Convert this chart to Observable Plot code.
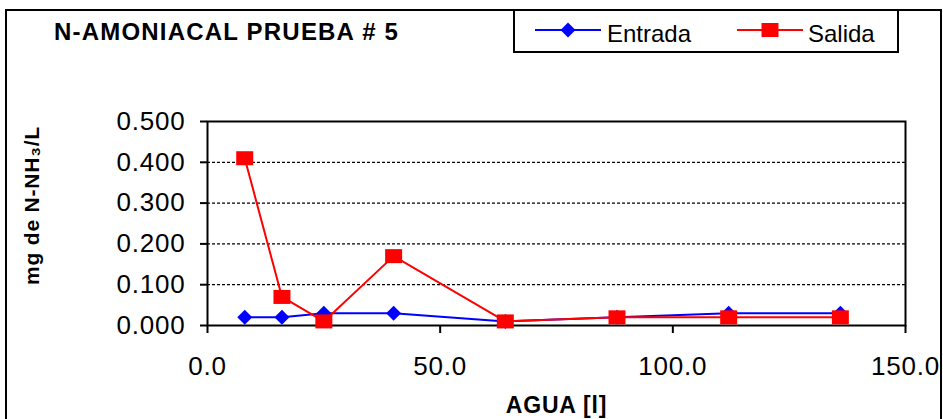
<!DOCTYPE html>
<html><head><meta charset="utf-8">
<script src="https://cdn.jsdelivr.net/npm/d3@7"></script>
<script src="https://cdn.jsdelivr.net/npm/@observablehq/plot@0.6"></script>
<style>
body{margin:0;background:#fff;font-family:Arial,"Liberation Sans",sans-serif;}
#wrap{position:relative;width:943px;height:419px;overflow:hidden;background:#fff;}
#border{position:absolute;left:5px;top:9px;width:937px;height:440px;border:2px solid #000;box-sizing:border-box;}
#head{position:absolute;left:0;top:0;width:943px;height:60px;}
#title{position:absolute;left:54px;top:20px;font-weight:bold;font-size:24px;line-height:23px;white-space:nowrap;letter-spacing:1.2px;}
#legend{position:absolute;left:513px;top:9px;width:386px;height:44px;border:2px solid #000;box-sizing:border-box;background:#fff;}
.sw{position:absolute;top:9px;}
.lt{position:absolute;top:11px;font-size:24px;line-height:24px;white-space:nowrap;}
#chart{position:absolute;left:0;top:60px;}
#chart svg text{letter-spacing:0.8px;}
</style></head><body>
<div id="wrap">
  <div id="border"></div>
  <div id="head">
    <div id="title"></div>
    <div id="legend"></div>
  </div>
  <div id="chart"></div>
</div>
<script>
// ---- data ----
const agua = [8, 16, 25, 40, 64, 88, 112, 136];
const entrada = [0.02, 0.02, 0.03, 0.03, 0.01, 0.02, 0.03, 0.03];
const salida = [0.41, 0.07, 0.01, 0.17, 0.01, 0.02, 0.02, 0.02];
const seriesNames = ["Entrada", "Salida"];
const seriesColors = ["#0000ff", "#ff0000"];
const yTicks = [0, 0.1, 0.2, 0.3, 0.4, 0.5];
const xTicks = [0, 50, 100, 150];
const titleText = "N-AMONIACAL PRUEBA # 5";
const xLabel = "AGUA [l]";
const yLabel = "mg de N-NH\u2083/L";

const entTable = agua.map((a, i) => ({agua: a, value: entrada[i]}));
const salTable = agua.map((a, i) => ({agua: a, value: salida[i]}));

const diamondSym = {draw(ctx) { ctx.moveTo(0, -7.5); ctx.lineTo(7.5, 0); ctx.lineTo(0, 7.5); ctx.lineTo(-7.5, 0); ctx.closePath(); }};
const squareSym = {draw(ctx) { ctx.rect(-8.5, -7, 17, 14); }};

document.getElementById("title").textContent = titleText;

// legend
const legend = document.getElementById("legend");
const legendItems = [
  {name: seriesNames[0], color: seriesColors[0], sw: 20, tx: 92, shape: "diamond"},
  {name: seriesNames[1], color: seriesColors[1], sw: 222, tx: 293, shape: "square"}
];
for (const it of legendItems) {
  const ns = "http://www.w3.org/2000/svg";
  const svg = document.createElementNS(ns, "svg");
  svg.setAttribute("width", 66); svg.setAttribute("height", 20);
  svg.setAttribute("class", "sw");
  svg.style.left = it.sw + "px";
  const ln = document.createElementNS(ns, "line");
  ln.setAttribute("x1", 0); ln.setAttribute("x2", 66); ln.setAttribute("y1", 10); ln.setAttribute("y2", 10);
  ln.setAttribute("stroke", it.color); ln.setAttribute("stroke-width", 2);
  svg.appendChild(ln);
  const p = document.createElementNS(ns, "path");
  p.setAttribute("d", it.shape === "diamond" ? "M33,2.5L40.5,10L33,17.5L25.5,10Z" : "M24.5,3h17v14h-17Z");
  p.setAttribute("fill", it.color);
  svg.appendChild(p);
  legend.appendChild(svg);
  const t = document.createElement("div");
  t.className = "lt"; t.style.left = it.tx + "px"; t.textContent = it.name;
  legend.appendChild(t);
}

const chart = Plot.plot({
  width: 943,
  height: 359,
  marginLeft: 207,
  marginRight: 38,
  marginTop: 61,
  marginBottom: 94,
  style: {fontFamily: "Arial, 'Liberation Sans', sans-serif", background: "transparent", color: "#000"},
  x: {domain: [0, 150]},
  y: {domain: [0, 0.5]},
  marks: [
    Plot.gridY([0.1, 0.2, 0.3, 0.4], {stroke: "#000", strokeOpacity: 1, strokeWidth: 1.3, strokeDasharray: "3,2"}),
    Plot.axisY(yTicks, {tickFormat: d3.format(".3f"), tickSize: 7, tickPadding: 15, fontSize: 26, strokeWidth: 2, label: null}),
    Plot.axisX(xTicks, {tickFormat: d3.format(".1f"), tickSize: 8, tickPadding: 23, fontSize: 26, strokeWidth: 2, label: null}),
    Plot.frame({stroke: "#000", strokeWidth: 2}),
    Plot.line(entTable, {x: "agua", y: "value", stroke: seriesColors[0], strokeWidth: 2}),
    Plot.dot(entTable, {x: "agua", y: "value", symbol: diamondSym, fill: seriesColors[0], stroke: "none"}),
    Plot.line(salTable, {x: "agua", y: "value", stroke: seriesColors[1], strokeWidth: 2}),
    Plot.dot(salTable, {x: "agua", y: "value", symbol: squareSym, fill: seriesColors[1], stroke: "none"}),
    Plot.text([yLabel], {text: d => d, frameAnchor: "left", rotate: -90, dx: -175, dy: -18, fontWeight: "bold", fontSize: 21, lineAnchor: "middle", textAnchor: "middle"}),
    Plot.text([xLabel], {text: d => d, frameAnchor: "bottom", dy: 80, fontWeight: "bold", fontSize: 23, lineAnchor: "middle", textAnchor: "middle"})
  ]
});
document.getElementById("chart").appendChild(chart);
</script>
</body></html>
